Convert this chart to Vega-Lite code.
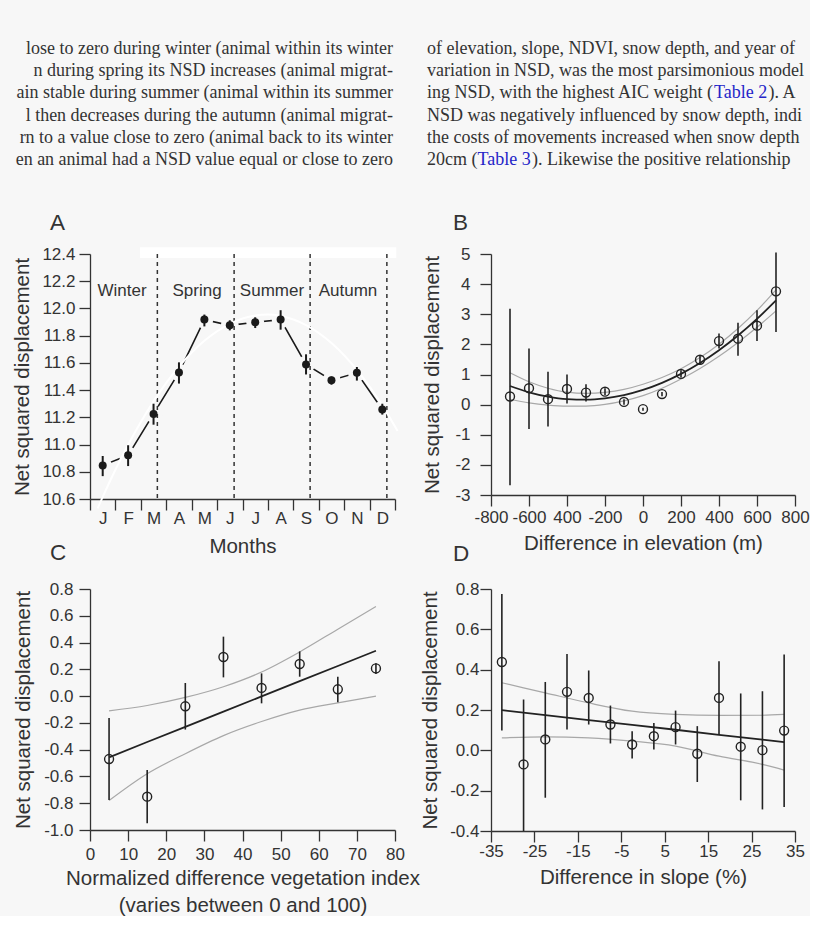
{
  "$schema": "https://vega.github.io/schema/vega-lite/v6.json",
  "background": "#f7f7f7",
  "padding": {"left": 12, "top": 39, "right": 0, "bottom": 0},
  "bounds": "flush",
  "columns": 2,
  "spacing": {"row": 90, "column": 96},
  "config": {
    "view": {"stroke": null},
    "font": "Liberation Sans",
    "axis": {"domainColor": "#333", "tickColor": "#333", "domainWidth": 1.3, "tickWidth": 1.3, "tickSize": 11, "labelFont": "Liberation Sans", "labelFontSize": 17, "labelColor": "#333", "titleFont": "Liberation Sans", "titleFontSize": 20.5, "titleFontWeight": "normal", "titleColor": "#333", "grid": false, "labelFlush": false, "labelOverlap": false},
    "title": {"font": "Liberation Sans", "fontSize": 22.5, "fontWeight": "normal", "color": "#333", "anchor": "start", "frame": "group", "baseline": "alphabetic"}
  },
  "datasets": {
    "leftText": [
      {"col": "L", "line": 1, "t": "lose to zero during winter (animal within its winter"},
      {"col": "L", "line": 2, "t": "n during spring its NSD increases (animal migrat-"},
      {"col": "L", "line": 3, "t": "ain stable during summer (animal within its summer"},
      {"col": "L", "line": 4, "t": "l then decreases during the autumn (animal migrat-"},
      {"col": "L", "line": 5, "t": "rn to a value close to zero (animal back to its winter"},
      {"col": "L", "line": 6, "t": "en an animal had a NSD value equal or close to zero"}
    ],
    "rightText": [
      {"col": "R", "line": 1, "t": "of elevation, slope, NDVI, snow depth, and year of"},
      {"col": "R", "line": 2, "t": "variation in NSD, was the most parsimonious model"},
      {"col": "R", "line": 3, "t": "ing NSD, with the highest AIC weight ("},
      {"col": "R", "line": 4, "t": "NSD was negatively influenced by snow depth, indi"},
      {"col": "R", "line": 5, "t": "the costs of movements increased when snow depth"},
      {"col": "R", "line": 6, "t": "20cm ("}
    ],
    "aPts": [
      {"m": 1, "v": 10.847, "lo": 10.768, "hi": 10.916},
      {"m": 2, "v": 10.921, "lo": 10.842, "hi": 10.995},
      {"m": 3, "v": 11.225, "lo": 11.146, "hi": 11.3},
      {"m": 4, "v": 11.53, "lo": 11.448, "hi": 11.604},
      {"m": 5, "v": 11.918, "lo": 11.868, "hi": 11.955},
      {"m": 6, "v": 11.876, "lo": 11.839, "hi": 11.913},
      {"m": 7, "v": 11.898, "lo": 11.856, "hi": 11.935},
      {"m": 8, "v": 11.918, "lo": 11.844, "hi": 11.987},
      {"m": 9, "v": 11.589, "lo": 11.515, "hi": 11.663},
      {"m": 10, "v": 11.473, "lo": 11.44, "hi": 11.5},
      {"m": 11, "v": 11.527, "lo": 11.47, "hi": 11.57},
      {"m": 12, "v": 11.258, "lo": 11.22, "hi": 11.3}
    ],
    "aCurve": [
      {"m": 0.8, "v": 10.531}, {"m": 1, "v": 10.615}, {"m": 1.5, "v": 10.815}, {"m": 2, "v": 10.998},
      {"m": 2.5, "v": 11.166}, {"m": 3, "v": 11.317}, {"m": 3.5, "v": 11.453}, {"m": 4, "v": 11.572},
      {"m": 5, "v": 11.762}, {"m": 6, "v": 11.887}, {"m": 7, "v": 11.948}, {"m": 7.5, "v": 11.955},
      {"m": 8, "v": 11.945}, {"m": 9, "v": 11.878}, {"m": 10, "v": 11.746}, {"m": 11, "v": 11.549},
      {"m": 12, "v": 11.288}, {"m": 12.6, "v": 11.1}
    ],
    "seasonBounds": [{"m": 3.15}, {"m": 6.17}, {"m": 9.16}, {"m": 12.18}],
    "seasons": [
      {"s": "Winter", "m": 1.76, "v": 12.13},
      {"s": "Spring", "m": 4.71, "v": 12.13},
      {"s": "Summer", "m": 7.66, "v": 12.13},
      {"s": "Autumn", "m": 10.65, "v": 12.13}
    ],
    "bPts": [
      {"e": -700, "v": 0.27, "lo": -2.68, "hi": 3.18},
      {"e": -600, "v": 0.545, "lo": -0.81, "hi": 1.865},
      {"e": -500, "v": 0.18, "lo": -0.73, "hi": 1.09},
      {"e": -400, "v": 0.52, "lo": 0.04, "hi": 1.0},
      {"e": -300, "v": 0.4, "lo": 0.1, "hi": 0.68},
      {"e": -200, "v": 0.43, "lo": 0.32, "hi": 0.54},
      {"e": -100, "v": 0.09, "lo": 0.0, "hi": 0.18},
      {"e": 0, "v": -0.15, "lo": -0.2, "hi": -0.1},
      {"e": 100, "v": 0.35, "lo": 0.28, "hi": 0.42},
      {"e": 200, "v": 1.02, "lo": 0.9, "hi": 1.14},
      {"e": 300, "v": 1.49, "lo": 1.33, "hi": 1.64},
      {"e": 400, "v": 2.11, "lo": 1.86, "hi": 2.36},
      {"e": 500, "v": 2.19, "lo": 1.62, "hi": 2.72},
      {"e": 600, "v": 2.62, "lo": 2.11, "hi": 3.13},
      {"e": 700, "v": 3.76, "lo": 2.41, "hi": 5.05}
    ],
    "bCurve": [
      {"e": -700, "fit": 0.619, "up": 1.059, "lo": 0.179},
      {"e": -600, "fit": 0.41, "up": 0.76, "lo": 0.06},
      {"e": -500, "fit": 0.265, "up": 0.545, "lo": -0.015},
      {"e": -400, "fit": 0.182, "up": 0.412, "lo": -0.048},
      {"e": -300, "fit": 0.163, "up": 0.373, "lo": -0.047},
      {"e": -200, "fit": 0.208, "up": 0.408, "lo": 0.008},
      {"e": -100, "fit": 0.316, "up": 0.506, "lo": 0.126},
      {"e": 0, "fit": 0.487, "up": 0.677, "lo": 0.297},
      {"e": 100, "fit": 0.722, "up": 0.902, "lo": 0.542},
      {"e": 200, "fit": 1.02, "up": 1.19, "lo": 0.85},
      {"e": 300, "fit": 1.381, "up": 1.561, "lo": 1.201},
      {"e": 400, "fit": 1.806, "up": 2.006, "lo": 1.606},
      {"e": 500, "fit": 2.295, "up": 2.525, "lo": 2.065},
      {"e": 600, "fit": 2.846, "up": 3.126, "lo": 2.566},
      {"e": 700, "fit": 3.461, "up": 3.811, "lo": 3.111}
    ],
    "cPts": [
      {"n": 5, "v": -0.47, "lo": -0.776, "hi": -0.163},
      {"n": 15, "v": -0.751, "lo": -0.95, "hi": -0.552},
      {"n": 25, "v": -0.076, "lo": -0.25, "hi": 0.098},
      {"n": 35, "v": 0.292, "lo": 0.14, "hi": 0.444},
      {"n": 45, "v": 0.061, "lo": -0.054, "hi": 0.17},
      {"n": 55, "v": 0.24, "lo": 0.145, "hi": 0.334},
      {"n": 65, "v": 0.051, "lo": -0.046, "hi": 0.145},
      {"n": 75, "v": 0.207, "lo": 0.165, "hi": 0.245}
    ],
    "cCurve": [
      {"n": 5, "fit": -0.457, "up": -0.11, "lo": -0.78},
      {"n": 15, "fit": -0.343, "up": -0.07, "lo": -0.58},
      {"n": 25, "fit": -0.23, "up": -0.01, "lo": -0.43},
      {"n": 35, "fit": -0.116, "up": 0.07, "lo": -0.295},
      {"n": 45, "fit": -0.002, "up": 0.18, "lo": -0.19},
      {"n": 55, "fit": 0.112, "up": 0.33, "lo": -0.105},
      {"n": 65, "fit": 0.225, "up": 0.5, "lo": -0.05},
      {"n": 75, "fit": 0.339, "up": 0.67, "lo": 0.0}
    ],
    "dPts": [
      {"s": -32.5, "v": 0.438, "lo": 0.098, "hi": 0.775},
      {"s": -27.5, "v": -0.07, "lo": -0.4, "hi": 0.252},
      {"s": -22.5, "v": 0.054, "lo": -0.235, "hi": 0.339},
      {"s": -17.5, "v": 0.29, "lo": 0.103, "hi": 0.478},
      {"s": -12.5, "v": 0.26, "lo": 0.128, "hi": 0.396},
      {"s": -7.5, "v": 0.128, "lo": 0.034, "hi": 0.222},
      {"s": -2.5, "v": 0.029, "lo": -0.04, "hi": 0.095},
      {"s": 2.5, "v": 0.07, "lo": 0.004, "hi": 0.136},
      {"s": 7.5, "v": 0.115, "lo": 0.029, "hi": 0.197},
      {"s": 12.5, "v": -0.017, "lo": -0.157, "hi": 0.12},
      {"s": 17.5, "v": 0.26, "lo": 0.079, "hi": 0.442},
      {"s": 22.5, "v": 0.018, "lo": -0.248, "hi": 0.282},
      {"s": 27.5, "v": 0.001, "lo": -0.293, "hi": 0.293},
      {"s": 32.5, "v": 0.098, "lo": -0.281, "hi": 0.475}
    ],
    "dCurve": [
      {"s": -32.5, "fit": 0.199, "up": 0.335, "lo": 0.062},
      {"s": -22.5, "fit": 0.175, "up": 0.285, "lo": 0.067},
      {"s": -12.5, "fit": 0.15, "up": 0.235, "lo": 0.062},
      {"s": -2.5, "fit": 0.126, "up": 0.194, "lo": 0.046},
      {"s": 7.5, "fit": 0.102, "up": 0.178, "lo": 0.021},
      {"s": 17.5, "fit": 0.077, "up": 0.173, "lo": -0.029},
      {"s": 27.5, "fit": 0.053, "up": 0.174, "lo": -0.07},
      {"s": 32.5, "fit": 0.041, "up": 0.178, "lo": -0.098}
    ]
  },
  "concat": [
    {
      "width": 305,
      "height": 119,
      "data": {"name": "leftText"},
      "mark": {"type": "text", "align": "right", "baseline": "middle", "font": "Liberation Serif", "fontSize": 18, "color": "#333"},
      "encoding": {
        "x": {"field": "col", "type": "nominal", "scale": {"type": "point", "domain": ["L"], "range": [303, 303]}, "axis": null},
        "y": {"field": "line", "type": "ordinal", "scale": {"type": "point", "padding": 0.18, "domain": [1, 2, 3, 4, 5, 6]}, "axis": null},
        "text": {"field": "t"}
      }
    },
    {
      "width": 304,
      "height": 119,
      "layer": [
        {
          "data": {"name": "rightText"},
          "mark": {"type": "text", "align": "left", "baseline": "middle", "font": "Liberation Serif", "fontSize": 18, "color": "#333", "limit": 393, "ellipsis": ""},
          "encoding": {
            "x": {"field": "col", "type": "nominal", "scale": {"type": "point", "domain": ["R"], "range": [-64, -64]}, "axis": null},
            "y": {"field": "line", "type": "ordinal", "scale": {"type": "point", "padding": 0.18, "domain": [1, 2, 3, 4, 5, 6]}, "axis": null},
            "text": {"field": "t"}
          }
        },
        {
          "data": {"values": [{"col": "R", "line": 3, "t": "Table 2"}]},
          "mark": {"type": "text", "align": "left", "baseline": "middle", "font": "Liberation Serif", "fontSize": 18, "color": "#2424c8", "dx": 287},
          "encoding": {
            "x": {"field": "col", "type": "nominal", "scale": {"type": "point", "domain": ["R"], "range": [-64, -64]}, "axis": null},
            "y": {"field": "line", "type": "ordinal", "scale": {"type": "point", "padding": 0.18, "domain": [1, 2, 3, 4, 5, 6]}, "axis": null},
            "text": {"field": "t"}
          }
        },
        {
          "data": {"values": [{"col": "R", "line": 3, "t": "). A"}]},
          "mark": {"type": "text", "align": "left", "baseline": "middle", "font": "Liberation Serif", "fontSize": 18, "color": "#333", "dx": 341.5, "limit": 51, "ellipsis": ""},
          "encoding": {
            "x": {"field": "col", "type": "nominal", "scale": {"type": "point", "domain": ["R"], "range": [-64, -64]}, "axis": null},
            "y": {"field": "line", "type": "ordinal", "scale": {"type": "point", "padding": 0.18, "domain": [1, 2, 3, 4, 5, 6]}, "axis": null},
            "text": {"field": "t"}
          }
        },
        {
          "data": {"values": [{"col": "R", "line": 6, "t": "Table 3"}]},
          "mark": {"type": "text", "align": "left", "baseline": "middle", "font": "Liberation Serif", "fontSize": 18, "color": "#2424c8", "dx": 50.5},
          "encoding": {
            "x": {"field": "col", "type": "nominal", "scale": {"type": "point", "domain": ["R"], "range": [-64, -64]}, "axis": null},
            "y": {"field": "line", "type": "ordinal", "scale": {"type": "point", "padding": 0.18, "domain": [1, 2, 3, 4, 5, 6]}, "axis": null},
            "text": {"field": "t"}
          }
        },
        {
          "data": {"values": [{"col": "R", "line": 6, "t": "). Likewise the positive relationship"}]},
          "mark": {"type": "text", "align": "left", "baseline": "middle", "font": "Liberation Serif", "fontSize": 18, "color": "#333", "dx": 105, "limit": 288, "ellipsis": ""},
          "encoding": {
            "x": {"field": "col", "type": "nominal", "scale": {"type": "point", "domain": ["R"], "range": [-64, -64]}, "axis": null},
            "y": {"field": "line", "type": "ordinal", "scale": {"type": "point", "padding": 0.18, "domain": [1, 2, 3, 4, 5, 6]}, "axis": null},
            "text": {"field": "t"}
          }
        }
      ]
    },
    {
      "width": 305,
      "height": 245,
      "title": {"text": "A", "dx": -40, "offset": 11},
      "layer": [
        {
          "data": {"values": [{"m": 2.47, "m2": 12.55, "v": 12.37, "v2": 12.45}]},
          "mark": {"type": "rect", "color": "#ffffff"},
          "encoding": {
            "x": {"field": "m", "type": "quantitative", "title": "Months", "scale": {"domain": [0.5, 12.5], "nice": false, "zero": false},
              "axis": {"values": [0.5, 1.5, 2.5, 3.5, 4.5, 5.5, 6.5, 7.5, 8.5, 9.5, 10.5, 11.5, 12.5], "tickCount": 30, "labelExpr": "substring('JFMAMJJASOND', floor(datum.value), floor(datum.value) + 1)", "labelOffset": 12.7, "labelPadding": 0, "titlePadding": 10, "labelOverlap": false}},
            "x2": {"field": "m2"},
            "y": {"field": "v", "type": "quantitative", "title": "Net squared displacement", "scale": {"domain": [10.6, 12.4], "nice": false, "zero": false},
              "axis": {"values": [10.6, 10.8, 11.0, 11.2, 11.4, 11.6, 11.8, 12.0, 12.2, 12.4], "tickCount": 30, "format": ".1f", "labelPadding": 4, "titlePadding": 9, "labelOverlap": false}},
            "y2": {"field": "v2"}
          }
        },
        {
          "data": {"name": "aPts"},
          "mark": {"type": "line", "color": "#1a1a1a", "strokeWidth": 1.6},
          "encoding": {
            "x": {"field": "m", "type": "quantitative", "title": "Months", "scale": {"domain": [0.5, 12.5], "nice": false, "zero": false}},
            "y": {"field": "v", "type": "quantitative", "title": "Net squared displacement", "scale": {"domain": [10.6, 12.4], "nice": false, "zero": false}}
          }
        },
        {
          "data": {"name": "aPts"},
          "mark": {"type": "point", "shape": "circle", "filled": true, "color": "#f7f7f7", "opacity": 1, "size": 320},
          "encoding": {
            "x": {"field": "m", "type": "quantitative", "title": "Months", "scale": {"domain": [0.5, 12.5], "nice": false, "zero": false}},
            "y": {"field": "v", "type": "quantitative", "title": "Net squared displacement", "scale": {"domain": [10.6, 12.4], "nice": false, "zero": false}}
          }
        },
        {
          "data": {"name": "seasonBounds"},
          "mark": {"type": "rule", "color": "#333", "strokeWidth": 1.5, "strokeDash": [4, 4]},
          "encoding": {
            "x": {"field": "m", "type": "quantitative", "title": "Months", "scale": {"domain": [0.5, 12.5], "nice": false, "zero": false}}
          }
        },
        {
          "data": {"name": "aCurve"},
          "mark": {"type": "line", "color": "#ffffff", "strokeWidth": 2, "interpolate": "monotone"},
          "encoding": {
            "x": {"field": "m", "type": "quantitative", "title": "Months", "scale": {"domain": [0.5, 12.5], "nice": false, "zero": false}},
            "y": {"field": "v", "type": "quantitative", "title": "Net squared displacement", "scale": {"domain": [10.6, 12.4], "nice": false, "zero": false}}
          }
        },
        {
          "data": {"name": "aPts"},
          "mark": {"type": "rule", "color": "#1a1a1a", "strokeWidth": 2},
          "encoding": {
            "x": {"field": "m", "type": "quantitative", "title": "Months", "scale": {"domain": [0.5, 12.5], "nice": false, "zero": false}},
            "y": {"field": "lo", "type": "quantitative", "title": "Net squared displacement", "scale": {"domain": [10.6, 12.4], "nice": false, "zero": false}},
            "y2": {"field": "hi"}
          }
        },
        {
          "data": {"name": "aPts"},
          "mark": {"type": "point", "shape": "circle", "filled": true, "color": "#1a1a1a", "opacity": 1, "size": 64},
          "encoding": {
            "x": {"field": "m", "type": "quantitative", "title": "Months", "scale": {"domain": [0.5, 12.5], "nice": false, "zero": false}},
            "y": {"field": "v", "type": "quantitative", "title": "Net squared displacement", "scale": {"domain": [10.6, 12.4], "nice": false, "zero": false}}
          }
        },
        {
          "data": {"name": "seasons"},
          "mark": {"type": "text", "font": "Liberation Sans", "fontSize": 17, "color": "#333", "baseline": "middle", "align": "center"},
          "encoding": {
            "x": {"field": "m", "type": "quantitative", "title": "Months", "scale": {"domain": [0.5, 12.5], "nice": false, "zero": false}},
            "y": {"field": "v", "type": "quantitative", "title": "Net squared displacement", "scale": {"domain": [10.6, 12.4], "nice": false, "zero": false}},
            "text": {"field": "s"}
          }
        }
      ]
    },
    {
      "width": 304,
      "height": 241,
      "title": {"text": "B", "dx": -38, "offset": 11},
      "layer": [
        {
          "data": {"name": "bCurve"},
          "mark": {"type": "line", "color": "#a8a8a8", "strokeWidth": 1.2, "interpolate": "monotone"},
          "encoding": {
            "x": {"field": "e", "type": "quantitative", "title": "Difference in elevation (m)", "scale": {"domain": [-800, 800], "nice": false},
              "axis": {"values": [-800, -600, -400, -200, 0, 200, 400, 600, 800], "tickCount": 30, "labelExpr": "datum.value == -400 ? '400' : replace(format(datum.value, 'd'), '\u2212', '-')", "labelPadding": 3, "titlePadding": 8, "labelOverlap": false}},
            "y": {"field": "up", "type": "quantitative", "title": "Net squared displacement", "scale": {"domain": [-3, 5], "nice": false},
              "axis": {"values": [-3, -2, -1, 0, 1, 2, 3, 4, 5], "tickCount": 30, "labelExpr": "replace(format(datum.value, 'd'), '\u2212', '-')", "labelPadding": 10, "titlePadding": 12, "labelOverlap": false}}
          }
        },
        {
          "data": {"name": "bCurve"},
          "mark": {"type": "line", "color": "#a8a8a8", "strokeWidth": 1.2, "interpolate": "monotone"},
          "encoding": {
            "x": {"field": "e", "type": "quantitative", "title": "Difference in elevation (m)", "scale": {"domain": [-800, 800], "nice": false}},
            "y": {"field": "lo", "type": "quantitative", "title": "Net squared displacement", "scale": {"domain": [-3, 5], "nice": false}}
          }
        },
        {
          "data": {"name": "bCurve"},
          "mark": {"type": "line", "color": "#222", "strokeWidth": 1.8, "interpolate": "monotone"},
          "encoding": {
            "x": {"field": "e", "type": "quantitative", "title": "Difference in elevation (m)", "scale": {"domain": [-800, 800], "nice": false}},
            "y": {"field": "fit", "type": "quantitative", "title": "Net squared displacement", "scale": {"domain": [-3, 5], "nice": false}}
          }
        },
        {
          "data": {"name": "bPts"},
          "mark": {"type": "rule", "color": "#222", "strokeWidth": 1.6},
          "encoding": {
            "x": {"field": "e", "type": "quantitative", "title": "Difference in elevation (m)", "scale": {"domain": [-800, 800], "nice": false}},
            "y": {"field": "lo", "type": "quantitative", "title": "Net squared displacement", "scale": {"domain": [-3, 5], "nice": false}},
            "y2": {"field": "hi"}
          }
        },
        {
          "data": {"name": "bPts"},
          "mark": {"type": "point", "shape": "circle", "filled": false, "color": "#222", "strokeWidth": 1.4, "opacity": 1, "size": 80},
          "encoding": {
            "x": {"field": "e", "type": "quantitative", "title": "Difference in elevation (m)", "scale": {"domain": [-800, 800], "nice": false}},
            "y": {"field": "v", "type": "quantitative", "title": "Net squared displacement", "scale": {"domain": [-3, 5], "nice": false}}
          }
        }
      ]
    },
    {
      "width": 305,
      "height": 241,
      "title": {"text": "C", "dx": -40, "offset": 16},
      "layer": [
        {
          "data": {"name": "cCurve"},
          "mark": {"type": "line", "color": "#a8a8a8", "strokeWidth": 1.2, "interpolate": "monotone"},
          "encoding": {
            "x": {"field": "n", "type": "quantitative", "title": ["Normalized difference vegetation index", "(varies between 0 and 100)"], "scale": {"domain": [0, 80], "nice": false},
              "axis": {"values": [0, 10, 20, 30, 40, 50, 60, 70, 80], "tickCount": 30, "labelExpr": "format(datum.value, 'd')", "labelPadding": 5, "titlePadding": 6, "titleLineHeight": 27, "labelOverlap": false}},
            "y": {"field": "up", "type": "quantitative", "title": "Net squared displacement", "scale": {"domain": [-1, 0.8], "nice": false},
              "axis": {"values": [-1, -0.8, -0.6, -0.4, -0.2, 0, 0.2, 0.4, 0.6, 0.8], "tickCount": 30, "labelExpr": "replace(format(datum.value, '.1f'), '\u2212', '-')", "labelPadding": 6, "titlePadding": 10, "labelOverlap": false}}
          }
        },
        {
          "data": {"name": "cCurve"},
          "mark": {"type": "line", "color": "#a8a8a8", "strokeWidth": 1.2, "interpolate": "monotone"},
          "encoding": {
            "x": {"field": "n", "type": "quantitative", "title": ["Normalized difference vegetation index", "(varies between 0 and 100)"], "scale": {"domain": [0, 80], "nice": false}},
            "y": {"field": "lo", "type": "quantitative", "title": "Net squared displacement", "scale": {"domain": [-1, 0.8], "nice": false}}
          }
        },
        {
          "data": {"name": "cCurve"},
          "mark": {"type": "line", "color": "#222", "strokeWidth": 1.8},
          "encoding": {
            "x": {"field": "n", "type": "quantitative", "title": ["Normalized difference vegetation index", "(varies between 0 and 100)"], "scale": {"domain": [0, 80], "nice": false}},
            "y": {"field": "fit", "type": "quantitative", "title": "Net squared displacement", "scale": {"domain": [-1, 0.8], "nice": false}}
          }
        },
        {
          "data": {"name": "cPts"},
          "mark": {"type": "rule", "color": "#222", "strokeWidth": 1.6},
          "encoding": {
            "x": {"field": "n", "type": "quantitative", "title": ["Normalized difference vegetation index", "(varies between 0 and 100)"], "scale": {"domain": [0, 80], "nice": false}},
            "y": {"field": "lo", "type": "quantitative", "title": "Net squared displacement", "scale": {"domain": [-1, 0.8], "nice": false}},
            "y2": {"field": "hi"}
          }
        },
        {
          "data": {"name": "cPts"},
          "mark": {"type": "point", "shape": "circle", "filled": false, "color": "#222", "strokeWidth": 1.4, "opacity": 1, "size": 80},
          "encoding": {
            "x": {"field": "n", "type": "quantitative", "title": ["Normalized difference vegetation index", "(varies between 0 and 100)"], "scale": {"domain": [0, 80], "nice": false}},
            "y": {"field": "v", "type": "quantitative", "title": "Net squared displacement", "scale": {"domain": [-1, 0.8], "nice": false}}
          }
        }
      ]
    },
    {
      "width": 304,
      "height": 242,
      "title": {"text": "D", "dx": -38, "offset": 15},
      "layer": [
        {
          "data": {"name": "dCurve"},
          "mark": {"type": "line", "color": "#a8a8a8", "strokeWidth": 1.2, "interpolate": "monotone"},
          "encoding": {
            "x": {"field": "s", "type": "quantitative", "title": "Difference in slope (%)", "scale": {"domain": [-35, 35], "nice": false},
              "axis": {"values": [-35, -25, -15, -5, 5, 15, 25, 35], "tickCount": 30, "labelExpr": "replace(format(datum.value, 'd'), '\u2212', '-')", "labelPadding": 1, "titlePadding": 8, "labelOverlap": false}},
            "y": {"field": "up", "type": "quantitative", "title": "Net squared displacement", "scale": {"domain": [-0.4, 0.8], "nice": false},
              "axis": {"values": [-0.4, -0.2, 0, 0.2, 0.4, 0.6, 0.8], "tickCount": 30, "labelExpr": "replace(format(datum.value, '.1f'), '\u2212', '-')", "labelPadding": 1, "titlePadding": 9, "labelOverlap": false}}
          }
        },
        {
          "data": {"name": "dCurve"},
          "mark": {"type": "line", "color": "#a8a8a8", "strokeWidth": 1.2, "interpolate": "monotone"},
          "encoding": {
            "x": {"field": "s", "type": "quantitative", "title": "Difference in slope (%)", "scale": {"domain": [-35, 35], "nice": false}},
            "y": {"field": "lo", "type": "quantitative", "title": "Net squared displacement", "scale": {"domain": [-0.4, 0.8], "nice": false}}
          }
        },
        {
          "data": {"name": "dCurve"},
          "mark": {"type": "line", "color": "#222", "strokeWidth": 1.8},
          "encoding": {
            "x": {"field": "s", "type": "quantitative", "title": "Difference in slope (%)", "scale": {"domain": [-35, 35], "nice": false}},
            "y": {"field": "fit", "type": "quantitative", "title": "Net squared displacement", "scale": {"domain": [-0.4, 0.8], "nice": false}}
          }
        },
        {
          "data": {"name": "dPts"},
          "mark": {"type": "rule", "color": "#222", "strokeWidth": 1.6},
          "encoding": {
            "x": {"field": "s", "type": "quantitative", "title": "Difference in slope (%)", "scale": {"domain": [-35, 35], "nice": false}},
            "y": {"field": "lo", "type": "quantitative", "title": "Net squared displacement", "scale": {"domain": [-0.4, 0.8], "nice": false}},
            "y2": {"field": "hi"}
          }
        },
        {
          "data": {"name": "dPts"},
          "mark": {"type": "point", "shape": "circle", "filled": false, "color": "#222", "strokeWidth": 1.4, "opacity": 1, "size": 80},
          "encoding": {
            "x": {"field": "s", "type": "quantitative", "title": "Difference in slope (%)", "scale": {"domain": [-35, 35], "nice": false}},
            "y": {"field": "v", "type": "quantitative", "title": "Net squared displacement", "scale": {"domain": [-0.4, 0.8], "nice": false}}
          }
        }
      ]
    }
  ]
}
